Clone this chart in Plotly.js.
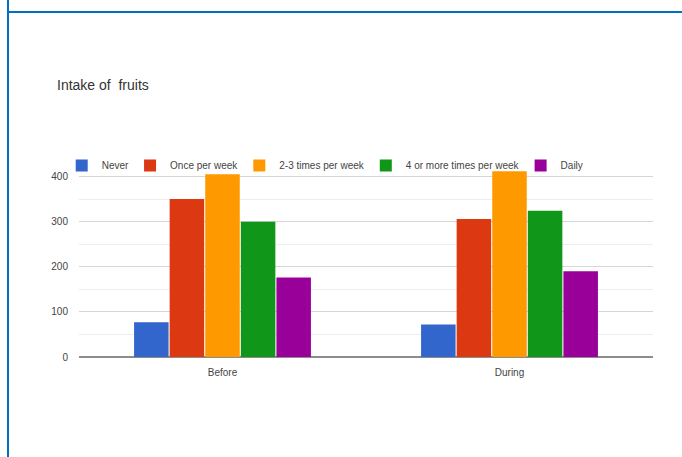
<!DOCTYPE html>
<html>
<head>
<meta charset="utf-8">
<script src="https://cdn.plot.ly/plotly-3.0.1.min.js"></script>
<style>
  html, body { margin: 0; padding: 0; background: #fff; }
  #wrap { position: relative; width: 682px; height: 457px; overflow: hidden; }
  #chart { position: absolute; left: 0; top: 0; width: 682px; height: 457px; }
  .rule-v { position: absolute; left: 7px; top: 0; width: 2px; height: 457px; background: #0070c0; }
  .rule-h { position: absolute; left: 7px; top: 11px; right: 0; height: 2px; background: #0070c0; }
</style>
</head>
<body>
<div id="wrap">
  <div id="chart"></div>
  <div class="rule-v"></div>
  <div class="rule-h"></div>
</div>
<script>
// Periods compared
const periods = ['Before', 'During'];

// Frequency groups and their colours
const seriesNames = ['Never', 'Once per week', '2-3 times per week', '4 or more times per week', 'Daily'];
const seriesColors = ['#3366cc', '#dc3912', '#ff9900', '#109618', '#990099'];

// Number of respondents per frequency group, [Before, During]
const never = [77, 72];
const oncePerWeek = [350, 306];
const twoThreeTimes = [405, 412];
const fourOrMore = [300, 324];
const daily = [176, 190];

const seriesValues = [never, oncePerWeek, twoThreeTimes, fourOrMore, daily];

const FONT = '"Liberation Sans", Arial, sans-serif';

const traces = seriesNames.map((name, i) => ({
  type: 'bar',
  name: name,
  x: periods,
  y: seriesValues[i],
  marker: { color: seriesColors[i] },
  hoverinfo: 'name+y'
}));

const layout = {
  width: 682,
  height: 457,
  margin: { l: 79, r: 29, t: 154, b: 100, pad: 0 },
  paper_bgcolor: '#ffffff',
  plot_bgcolor: '#ffffff',
  font: { family: FONT, size: 10, color: '#444' },
  title: {
    text: 'Intake of  fruits',
    font: { family: FONT, size: 14, color: '#333' },
    xref: 'container', x: 57 / 682, xanchor: 'left',
    yref: 'container', y: 1 - 85 / 457, yanchor: 'middle'
  },
  barmode: 'group',
  bargap: 0.38,
  bargroupgap: 0.03,
  showlegend: true,
  legend: {
    orientation: 'h',
    x: 0.888, xanchor: 'right',
    y: 0.943, yanchor: 'middle',
    indentation: -4,
    bgcolor: 'rgba(0,0,0,0)',
    font: { family: FONT, size: 10, color: '#444' },
    traceorder: 'normal'
  },
  xaxis: {
    type: 'category',
    showgrid: false,
    showline: false,
    zeroline: false,
    ticks: 'outside',
    ticklen: 6,
    tickcolor: 'rgba(0,0,0,0)',
    tickfont: { family: FONT, size: 10, color: '#444' }
  },
  yaxis: {
    range: [0, 450],
    dtick: 100,
    tick0: 0,
    showgrid: true,
    gridcolor: '#d6d6d6',
    gridwidth: 1,
    minor: { dtick: 50, tick0: 0, showgrid: true, gridcolor: '#ededed', gridwidth: 1 },
    zeroline: true,
    zerolinecolor: '#8c8c8c',
    zerolinewidth: 2,
    showline: false,
    ticks: 'outside',
    ticklen: 8,
    tickcolor: 'rgba(0,0,0,0)',
    tickfont: { family: FONT, size: 10, color: '#444' }
  }
};

Plotly.newPlot('chart', traces, layout, { displayModeBar: false, staticPlot: true });
</script>
</body>
</html>
